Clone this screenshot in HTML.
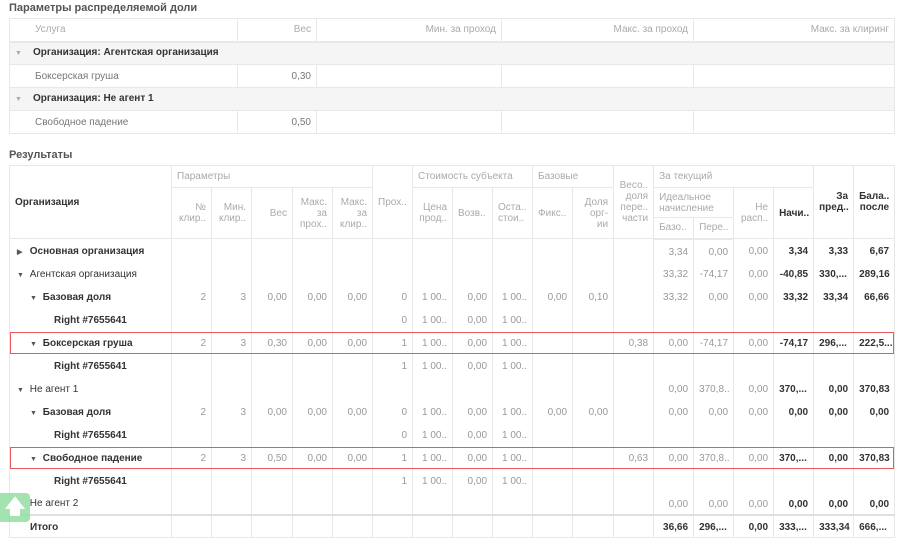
<!DOCTYPE html>
<html><head><meta charset="utf-8">
<style>
*{box-sizing:border-box;margin:0;padding:0}
body{width:903px;height:543px;overflow:hidden;background:#fff;font-family:"Liberation Sans",sans-serif;font-size:10px;color:#999;position:relative}
.t{position:absolute;left:9px;font-weight:bold;color:#555;font-size:11px}
table{position:absolute;left:9px;border-collapse:collapse;table-layout:fixed}
td,th{border:1px solid #e8e8e8;padding:0 5px;font-weight:normal;overflow:hidden;white-space:nowrap;line-height:11px}
#a{top:18px;width:885px}
#a td{height:23px}
#a .g td{background:#f5f5f5;color:#333;font-weight:bold}
#a tr.h td{border-bottom:2px solid #e8e8e8;color:#aaa}
.r{text-align:right}
#b{top:165px;width:885px}
#b th{vertical-align:middle;color:#aaa;text-align:right;white-space:normal}
#b th.l{text-align:left}
#b th.k{color:#333;font-weight:bold}
#b tr.h3 th{border-bottom:2px solid #e8e8e8}
#b td{height:23px;text-align:right;color:#999;border-top:none;border-bottom:none;padding-top:3px}
#b td:first-child{text-align:left;color:#333;font-weight:bold}
#b td.b{color:#333;font-weight:bold}
.ar{font-size:7px;color:#555;display:inline-block;width:10px}
#b tr.tot td{border-top:2px solid #e0e0e0;border-bottom:1px solid #e8e8e8}
.red{position:absolute;left:10px;width:884px;height:22px;border:1px solid #e85a5a}
.btn{position:absolute;left:0;top:493px;width:30px;height:29px;background:rgba(140,220,155,0.8);border-radius:0 4px 4px 0;color:#fff;font-size:20px;font-weight:bold;text-align:center;line-height:29px}
</style></head><body>
<div class="t" style="top:2px">Параметры распределяемой доли</div>
<table id="a">
<colgroup><col style="width:228px"><col style="width:79px"><col style="width:185px"><col style="width:192px"><col style="width:201px"></colgroup>
<tr class="h"><td style="padding-left:25px">Услуга</td><td class="r">Вес</td><td class="r">Мин. за проход</td><td class="r">Макс. за проход</td><td class="r">Макс. за клиринг</td></tr>
<tr class="g"><td colspan="5"><span class="ar" style="color:#aaa;margin-right:8px">▼</span>Организация: Агентская организация</td></tr>
<tr><td style="padding-left:25px;color:#777">Боксерская груша</td><td class="r" style="color:#777">0,30</td><td></td><td></td><td></td></tr>
<tr class="g"><td colspan="5"><span class="ar" style="color:#aaa;margin-right:8px">▼</span>Организация: Не агент 1</td></tr>
<tr><td style="padding-left:25px;color:#777">Свободное падение</td><td class="r" style="color:#777">0,50</td><td></td><td></td><td></td></tr>
</table>
<div class="t" style="top:149px">Результаты</div>
<table id="b">
<colgroup><col style="width:162px"><col style="width:40px"><col style="width:40px"><col style="width:41px"><col style="width:40px"><col style="width:40px"><col style="width:40px"><col style="width:40px"><col style="width:40px"><col style="width:40px"><col style="width:40px"><col style="width:41px"><col style="width:40px"><col style="width:40px"><col style="width:40px"><col style="width:40px"><col style="width:40px"><col style="width:40px"><col style="width:41px"></colgroup>
<tr style="height:22px"><th rowspan="3" class="l k" style="color:#333">Организация</th><th colspan="5" class="l">Параметры</th><th rowspan="3" class="l">Прох..</th><th colspan="3" class="l">Стоимость субъекта</th><th colspan="2" class="l">Базовые</th><th rowspan="3">Весо..<br>доля<br>пере..<br>части</th><th colspan="4" class="l">За текущий</th><th rowspan="3" class="k">За<br>пред..</th><th rowspan="3" class="k">Бала..<br>после</th></tr>
<tr style="height:30px"><th rowspan="2">№<br>клир..</th><th rowspan="2">Мин.<br>клир..</th><th rowspan="2">Вес</th><th rowspan="2">Макс.<br>за<br>прох..</th><th rowspan="2">Макс.<br>за<br>клир..</th><th rowspan="2">Цена<br>прод..</th><th rowspan="2" class="l">Возв..</th><th rowspan="2" class="l">Оста..<br>стои..</th><th rowspan="2" class="l">Фикс..</th><th rowspan="2">Доля<br>орг-<br>ии</th><th colspan="2" class="l">Идеальное<br>начисление</th><th rowspan="2">Не<br>расп..</th><th rowspan="2" class="l k">Начи..</th></tr>
<tr class="h3" style="height:21px"><th class="l">Базо..</th><th class="l">Пере..</th></tr>
<tr><td style="padding-left:7px"><span class="ar">▶</span> Основная организация</td><td></td><td></td><td></td><td></td><td></td><td></td><td></td><td></td><td></td><td></td><td></td><td></td><td>3,34</td><td>0,00</td><td>0,00</td><td class="b">3,34</td><td class="b">3,33</td><td class="b">6,67</td></tr>
<tr><td style="padding-left:7px;font-weight:normal"><span class="ar">▼</span> Агентская организация</td><td></td><td></td><td></td><td></td><td></td><td></td><td></td><td></td><td></td><td></td><td></td><td></td><td>33,32</td><td>-74,17</td><td>0,00</td><td class="b">-40,85</td><td class="b" style="text-align:left">330,...</td><td class="b">289,16</td></tr>
<tr><td style="padding-left:20px"><span class="ar">▼</span> Базовая доля</td><td>2</td><td>3</td><td>0,00</td><td>0,00</td><td>0,00</td><td>0</td><td>1 00..</td><td>0,00</td><td>1 00..</td><td>0,00</td><td>0,10</td><td></td><td>33,32</td><td>0,00</td><td>0,00</td><td class="b">33,32</td><td class="b">33,34</td><td class="b">66,66</td></tr>
<tr><td style="padding-left:44px">Right #7655641</td><td></td><td></td><td></td><td></td><td></td><td>0</td><td>1 00..</td><td>0,00</td><td>1 00..</td><td></td><td></td><td></td><td></td><td></td><td></td><td></td><td></td><td></td></tr>
<tr><td style="padding-left:20px"><span class="ar">▼</span> Боксерская груша</td><td>2</td><td>3</td><td>0,30</td><td>0,00</td><td>0,00</td><td>1</td><td>1 00..</td><td>0,00</td><td>1 00..</td><td></td><td></td><td>0,38</td><td>0,00</td><td>-74,17</td><td>0,00</td><td class="b">-74,17</td><td class="b" style="text-align:left">296,...</td><td class="b" style="text-align:left">222,5...</td></tr>
<tr><td style="padding-left:44px">Right #7655641</td><td></td><td></td><td></td><td></td><td></td><td>1</td><td>1 00..</td><td>0,00</td><td>1 00..</td><td></td><td></td><td></td><td></td><td></td><td></td><td></td><td></td><td></td></tr>
<tr><td style="padding-left:7px;font-weight:normal"><span class="ar">▼</span> Не агент 1</td><td></td><td></td><td></td><td></td><td></td><td></td><td></td><td></td><td></td><td></td><td></td><td></td><td>0,00</td><td>370,8..</td><td>0,00</td><td class="b" style="text-align:left">370,...</td><td class="b">0,00</td><td class="b">370,83</td></tr>
<tr><td style="padding-left:20px"><span class="ar">▼</span> Базовая доля</td><td>2</td><td>3</td><td>0,00</td><td>0,00</td><td>0,00</td><td>0</td><td>1 00..</td><td>0,00</td><td>1 00..</td><td>0,00</td><td>0,00</td><td></td><td>0,00</td><td>0,00</td><td>0,00</td><td class="b">0,00</td><td class="b">0,00</td><td class="b">0,00</td></tr>
<tr><td style="padding-left:44px">Right #7655641</td><td></td><td></td><td></td><td></td><td></td><td>0</td><td>1 00..</td><td>0,00</td><td>1 00..</td><td></td><td></td><td></td><td></td><td></td><td></td><td></td><td></td><td></td></tr>
<tr><td style="padding-left:20px"><span class="ar">▼</span> Свободное падение</td><td>2</td><td>3</td><td>0,50</td><td>0,00</td><td>0,00</td><td>1</td><td>1 00..</td><td>0,00</td><td>1 00..</td><td></td><td></td><td>0,63</td><td>0,00</td><td>370,8..</td><td>0,00</td><td class="b" style="text-align:left">370,...</td><td class="b">0,00</td><td class="b">370,83</td></tr>
<tr><td style="padding-left:44px">Right #7655641</td><td></td><td></td><td></td><td></td><td></td><td>1</td><td>1 00..</td><td>0,00</td><td>1 00..</td><td></td><td></td><td></td><td></td><td></td><td></td><td></td><td></td><td></td></tr>
<tr><td style="padding-left:7px;font-weight:normal"><span class="ar">▶</span> Не агент 2</td><td></td><td></td><td></td><td></td><td></td><td></td><td></td><td></td><td></td><td></td><td></td><td></td><td>0,00</td><td>0,00</td><td>0,00</td><td class="b">0,00</td><td class="b">0,00</td><td class="b">0,00</td></tr>
<tr class="tot"><td style="padding-left:20px">Итого</td><td></td><td></td><td></td><td></td><td></td><td></td><td></td><td></td><td></td><td></td><td></td><td></td><td class="b">36,66</td><td class="b" style="text-align:left">296,...</td><td class="b">0,00</td><td class="b" style="text-align:left">333,...</td><td class="b">333,34</td><td class="b" style="text-align:left">666,...</td></tr>
</table>
<div class="red" style="top:332px"></div>
<div class="red" style="top:447px"></div>
<div class="btn">🡅</div>
</body></html>
